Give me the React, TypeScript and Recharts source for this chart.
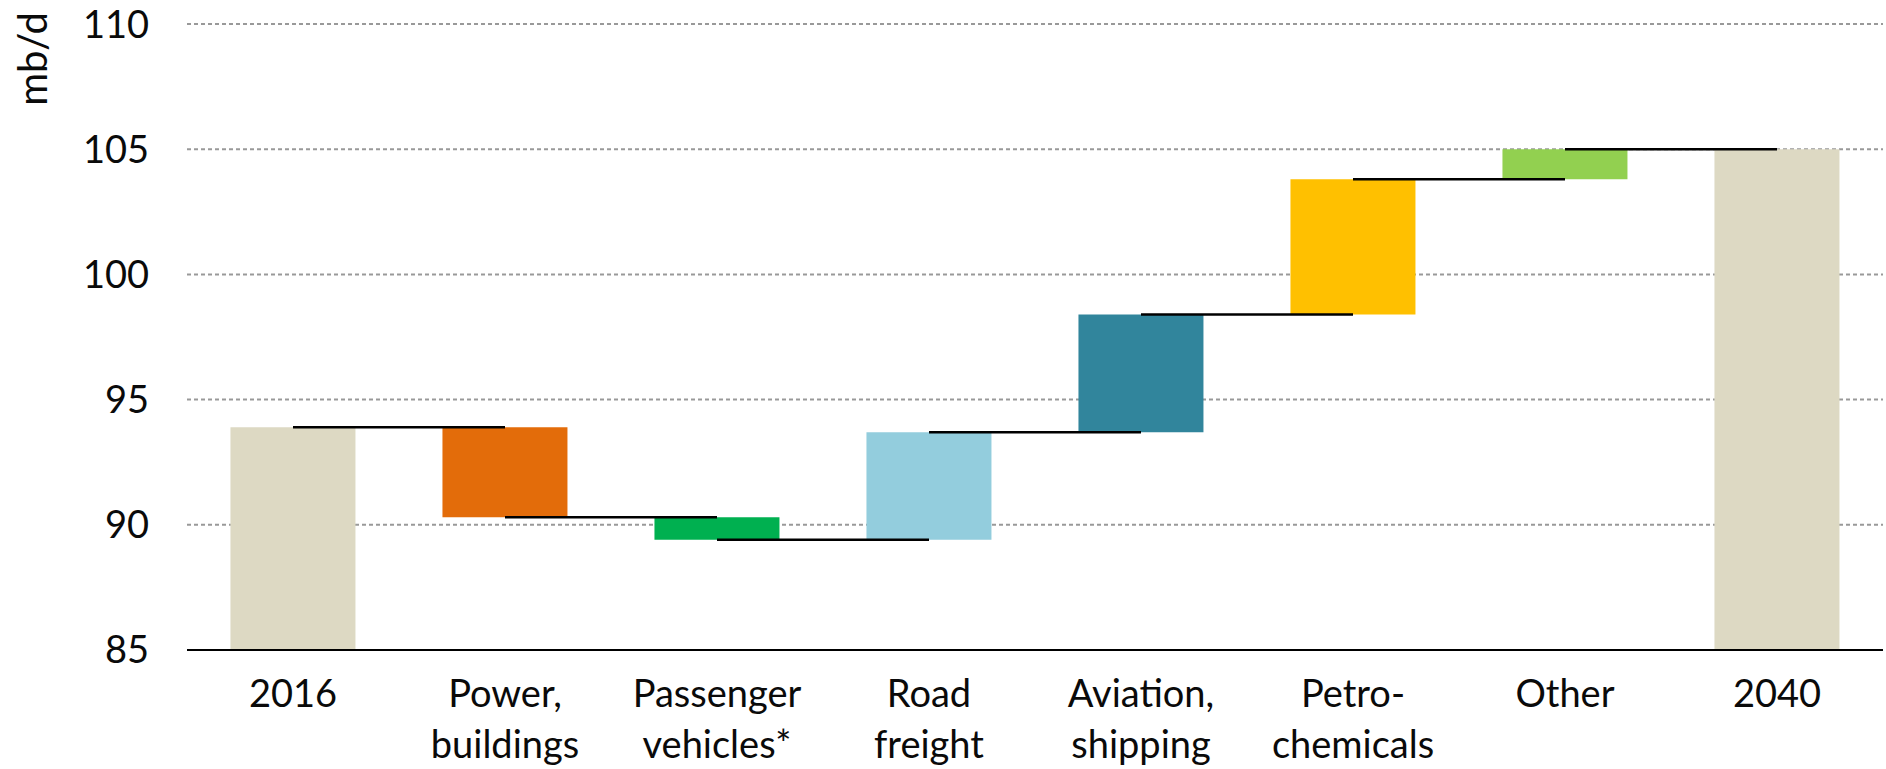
import { BarChart, Bar, XAxis, YAxis, CartesianGrid, Cell, ReferenceLine, Label } from 'recharts'

// mb/d, world oil demand change by sector 2016 -> 2040
const categories = [
  '2016',
  'Power,\nbuildings',
  'Passenger\nvehicles*',
  'Road\nfreight',
  'Aviation,\nshipping',
  'Petro-\nchemicals',
  'Other',
  '2040',
]
const total2016 = 93.9
const sectorChanges = [-3.6, -0.9, 4.3, 4.7, 5.4, 1.2]
const total2040 = 105.0
const barColors = ['#DDD9C3', '#E36C0A', '#00B050', '#93CDDD', '#31859C', '#FFC000', '#92D050', '#DDD9C3']
const yTicks = [85, 90, 95, 100, 105, 110]
const yMin = 85

// build floating ranges for the waterfall
const levels: number[] = [total2016]
sectorChanges.forEach((c) => levels.push(+(levels[levels.length - 1] + c).toFixed(1)))

const data = categories.map((cat, i) => {
  let range: [number, number]
  if (i === 0) range = [yMin, total2016]
  else if (i === categories.length - 1) range = [yMin, total2040]
  else {
    const a = levels[i - 1]
    const b = levels[i]
    range = [Math.min(a, b), Math.max(a, b)]
  }
  return { cat, range }
})

// connector level leaving each bar
const connectors = categories.slice(0, -1).map((cat, i) => ({
  from: cat,
  to: categories[i + 1],
  level: i < levels.length ? levels[i] : total2040,
}))

const font = 'Lato, "Open Sans", sans-serif'

const XTick = (props: any) => {
  const { x, y, payload } = props
  const lines = String(payload.value).split('\n')
  return (
    <text x={x} y={y + 57} textAnchor="middle" fontSize={38} fontFamily={font} fill="#0a0a0a">
      {lines.map((l, i) => (
        <tspan key={i} x={x} dy={i === 0 ? 0 : 51}>
          {l}
        </tspan>
      ))}
    </text>
  )
}

export default function App() {
  return (
    <div style={{ position: 'absolute', left: 0, top: 0, background: '#fff' }}>
      <BarChart
        width={1886}
        height={769}
        data={data}
        margin={{ top: 24, right: 3, left: 0, bottom: 89 }}
        barCategoryGap="20.5%"
      >
        <CartesianGrid vertical={false} stroke="#999" strokeWidth={2} strokeDasharray="4 3" />
        <XAxis
          dataKey="cat"
          interval={0}
          height={30}
          tick={<XTick />}
          tickLine={false}
          tickSize={0}
          tickMargin={0}
          axisLine={{ stroke: '#000', strokeWidth: 2 }}
        />
        <YAxis
          type="number"
          domain={[85, 110]}
          ticks={yTicks}
          width={187}
          axisLine={false}
          tickLine={false}
          tickSize={0}
          tickMargin={38}
          tick={{ fontSize: 38, fontFamily: font, fill: '#0a0a0a' }}
        >
          <Label
            content={() => (
              <text
                transform="translate(47,59) rotate(-90)"
                textAnchor="middle"
                fontSize={40}
                fontFamily={font}
                fill="#0a0a0a"
              >
                mb/d
              </text>
            )}
          />
        </YAxis>
        <Bar dataKey="range" isAnimationActive={false}>
          {data.map((d, i) => (
            <Cell key={d.cat} fill={barColors[i]} />
          ))}
        </Bar>
        {connectors.map((c) => (
          <ReferenceLine
            key={c.from}
            segment={[
              { x: c.from, y: c.level },
              { x: c.to, y: c.level },
            ]}
            stroke="#000"
            strokeWidth={2.5}
          />
        ))}
      </BarChart>
    </div>
  )
}
